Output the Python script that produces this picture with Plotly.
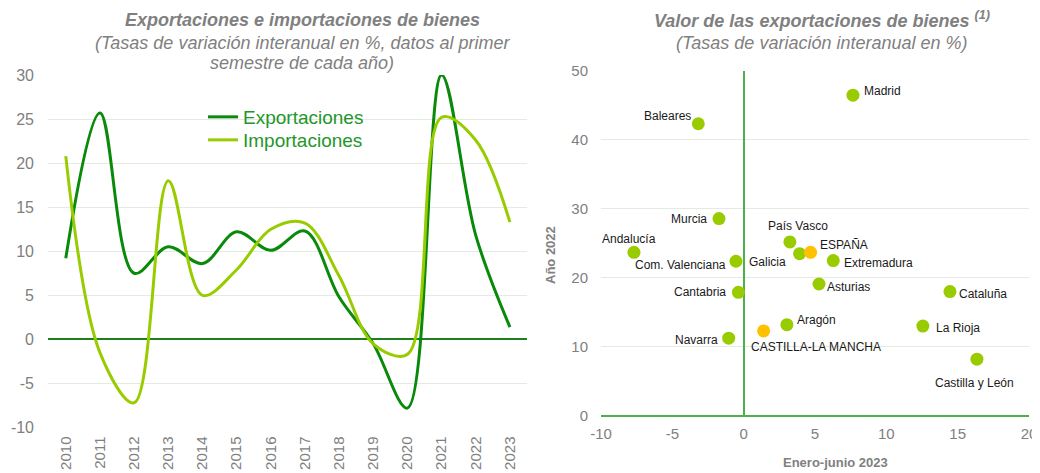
import plotly.graph_objects as go

# ---------------- data ----------------
years = [2010, 2011, 2012, 2013, 2014, 2015, 2016, 2017, 2018, 2019, 2020, 2021, 2022, 2023]
exportaciones = [9.2, 25.7, 7.5, 10.5, 8.6, 12.2, 10.1, 12.3, 4.8, -0.5, -7.8, 30.0, 11.8, 1.4]
importaciones = [20.8, -1.5, -7.2, 18.0, 5.0, 7.9, 12.5, 13.2, 7.2, -0.5, -1.7, 25.2, 22.6, 13.3]

left_y_ticks = [-10, -5, 0, 5, 10, 15, 20, 25, 30]
left_y_labels = ["-10", "-5", "0", "5", "10", "15", "20", "25", "30"]
right_x_ticks = [-10, -5, 0, 5, 10, 15, 20]
right_x_labels = ["-10", "-5", "0", "5", "10", "15", "20"]

regiones = ["Madrid", "Baleares", "Murcia", "Andalucía", "País Vasco", "Galicia", "ESPAÑA",
            "Extremadura", "Com. Valenciana", "Cantabria", "Asturias", "Cataluña", "Aragón",
            "La Rioja", "Navarra", "CASTILLA-LA MANCHA", "Castilla y León"]
enero_junio_2023 = [7.66, -3.18, -1.73, -7.69, 3.24, 3.92, 4.69, 6.28, -0.54, -0.37, 5.28,
                    14.46, 3.03, 12.56, -1.05, 1.40, 16.35]
anio_2022 = [46.5, 42.35, 28.6, 23.7, 25.2, 23.5, 23.7, 22.5, 22.4, 17.9, 19.1, 18.0, 13.2,
             13.0, 11.25, 12.3, 8.2]
destacadas = ["ESPAÑA", "CASTILLA-LA MANCHA"]

# label placement (anchor, x shift px, y shift px)
label_pos = {
    "Madrid": ("left", 9, 4), "Baleares": ("right", -5, 8), "Murcia": ("right", -10, 0),
    "Andalucía": ("center", -5, 13), "País Vasco": ("center", 8, 16), "Galicia": ("right", -12, -8),
    "ESPAÑA": ("left", 7, 7), "Extremadura": ("left", 9, -2), "Com. Valenciana": ("right", -8, -4),
    "Cantabria": ("right", -10, 0), "Asturias": ("left", 6, -3), "Cataluña": ("left", 7, -2),
    "Aragón": ("left", 8, 5), "La Rioja": ("left", 11, -2), "Navarra": ("right", -9, -2),
    "CASTILLA-LA MANCHA": ("left", -15, -16), "Castilla y León": ("center", -2, -24),
}

DARK = "#0a8a0a"
LIGHT = "#99cc00"
ORANGE = "#ffc000"
GRAY = "#808080"
GRID = "#e3ece3"
AXGREEN = "#4cb04c"
FONT = "Liberation Sans, Arial, sans-serif"

# the page body adds an 8 px margin; the figure is sized to fit the 1040x473 window
OFF = 8
W, H = 1040 - OFF, 473 - OFF


def PX(x):
    return (x - OFF) / W


def PY(y):
    return 1 - (y - OFF) / H


fig = go.Figure()

fig.add_trace(go.Scatter(x=years, y=exportaciones, mode="lines", name="Exportaciones",
                         line=dict(color=DARK, width=3, shape="spline", smoothing=1.0),
                         xaxis="x", yaxis="y", legend="legend"))
fig.add_trace(go.Scatter(x=years, y=importaciones, mode="lines", name="Importaciones",
                         line=dict(color=LIGHT, width=3, shape="spline", smoothing=1.0),
                         xaxis="x", yaxis="y", legend="legend2"))

colors = [ORANGE if r in destacadas else LIGHT for r in regiones]
fig.add_trace(go.Scatter(x=enero_junio_2023, y=anio_2022, mode="markers",
                         marker=dict(color=colors, size=13, line=dict(width=0)),
                         showlegend=False, xaxis="x2", yaxis="y2"))

annotations = []
for r, xv, yv in zip(regiones, enero_junio_2023, anio_2022):
    anchor, xs, ys = label_pos[r]
    annotations.append(dict(x=xv, y=yv, xref="x2", yref="y2", text=r, showarrow=False,
                            xanchor=anchor, yanchor="middle", xshift=xs, yshift=ys,
                            font=dict(family=FONT, size=12, color="#1a1a1a")))


def txt(x, y, text, size, angle=0):
    return dict(x=PX(x), y=PY(y), xref="paper", yref="paper", showarrow=False, text=text,
                textangle=angle, font=dict(family=FONT, size=size, color=GRAY),
                xanchor="center", yanchor="middle")


annotations += [
    txt(302, 20, "<b><i>Exportaciones e importaciones de bienes</i></b>", 18),
    txt(303, 43, "<i>(Tasas de variación interanual en %, datos al primer</i>", 18),
    txt(302, 63, "<i>semestre de cada año)</i>", 18),
    txt(822, 20, "<b><i>Valor de las exportaciones de bienes <sup>(1)</sup></i></b>", 18),
    txt(822, 43, "<i>(Tasas de variación interanual en %)</i>", 18),
    txt(551, 255, "<b>Año 2022</b>", 13, -90),
    txt(835, 462, "<b>Enero-junio 2023</b>", 13),
]

legend_style = dict(xanchor="left", yanchor="top", bgcolor="rgba(0,0,0,0)",
                    font=dict(family=FONT, size=19, color="#23962a"), itemwidth=30)

fig.update_layout(
    width=W, height=H,
    margin=dict(l=0, r=0, t=0, b=0, autoexpand=False),
    paper_bgcolor="white", plot_bgcolor="white",
    font=dict(family=FONT, color=GRAY),
    showlegend=True,
    legend=dict(x=PX(203), y=PY(98), **legend_style),
    legend2=dict(x=PX(203), y=PY(121), **legend_style),
    xaxis=dict(domain=[PX(48), PX(527)], range=[2009.48, 2023.5], automargin=False,
               tickmode="array", tickvals=years, ticktext=[str(y) for y in years],
               tickangle=-90, tickfont=dict(size=15, color=GRAY),
               showgrid=False, zeroline=False, showline=False, ticks="",
               ticklabelstandoff=5),
    yaxis=dict(domain=[PY(427.5), PY(75)], range=[-10, 30], automargin=False,
               tickmode="array", tickvals=left_y_ticks, ticktext=left_y_labels,
               tickfont=dict(size=16, color=GRAY), gridcolor=GRID, gridwidth=1,
               zeroline=True, zerolinecolor="#1f7f1f", zerolinewidth=1.5,
               showline=False, ticks="", ticklabelstandoff=13),
    xaxis2=dict(domain=[PX(601), PX(1029)], range=[-10, 20], anchor="y2", automargin=False,
                tickmode="array", tickvals=right_x_ticks, ticktext=right_x_labels,
                tickfont=dict(size=15, color=GRAY), showgrid=False,
                zeroline=True, zerolinecolor=AXGREEN, zerolinewidth=1.5,
                showline=False, ticks="", ticklabelstandoff=7),
    yaxis2=dict(domain=[PY(415.7), PY(71)], range=[0, 50], dtick=10, anchor="x2",
                automargin=False,
                tickfont=dict(size=15, color=GRAY), gridcolor=GRID, gridwidth=1,
                zeroline=True, zerolinecolor=AXGREEN, zerolinewidth=1.5,
                showline=False, ticks="", ticklabelstandoff=12),
    annotations=annotations,
)

fig.write_html("out.html")
